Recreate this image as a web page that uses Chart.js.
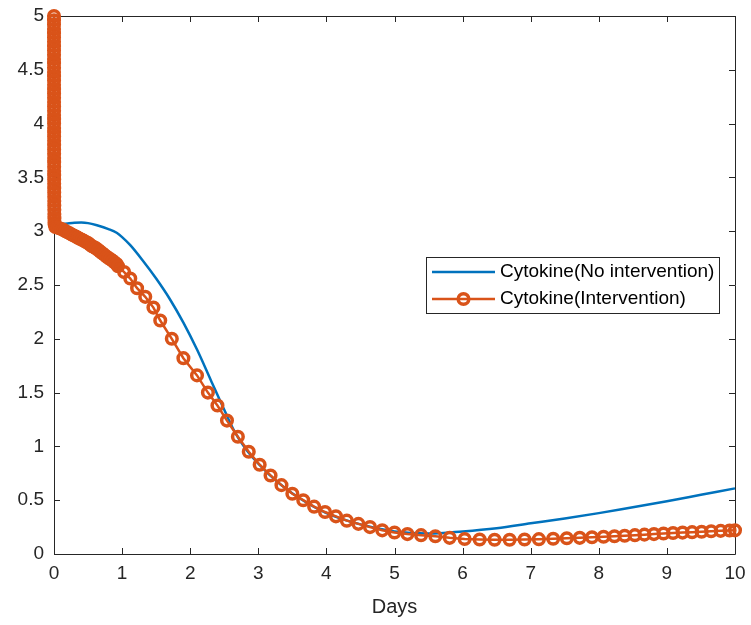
<!DOCTYPE html>
<html>
<head>
<meta charset="utf-8">
<title>Cytokine</title>
<script src="https://cdn.jsdelivr.net/npm/chart.js@4.4.1/dist/chart.umd.min.js"></script>
<style>
  html, body { margin: 0; padding: 0; background: #fff; }
  #wrap { width: 751px; height: 625px; }
</style>
</head>
<body>
<div id="wrap"><canvas id="cytokine-chart" width="751" height="625"></canvas></div>
<script>
// Cytokine level without intervention (solver output, sparse)
const noInterventionDays = [0, 0.01, 0.03, 0.1, 0.2, 0.3, 0.4, 0.5, 0.63, 0.8, 0.92, 1.0, 1.12, 1.3, 1.5, 1.7, 1.9, 2.1, 2.3, 2.5, 2.65, 2.8, 3.0, 3.3, 3.6, 4.0, 4.5, 5.0, 5.5, 6.0, 6.5, 7.0, 7.5, 8.0, 8.5, 9.0, 9.5, 10];
const noInterventionLevel = [5.0, 3.5, 3.06, 3.065, 3.072, 3.078, 3.08, 3.075, 3.055, 3.02, 2.985, 2.945, 2.87, 2.73, 2.56, 2.37, 2.15, 1.9, 1.62, 1.34, 1.14, 0.99, 0.84, 0.66, 0.52, 0.38, 0.275, 0.21, 0.19, 0.21, 0.24, 0.285, 0.33, 0.38, 0.435, 0.49, 0.55, 0.61];

// Cytokine level with intervention (every solver step is marked)
const interventionDays = [
  0, 0.00005, 0.0001, 0.00015, 0.0002, 0.00025, 0.0003, 0.00035, 0.0004, 0.00045,
  0.0005, 0.00055, 0.0006, 0.00065, 0.0007, 0.00075, 0.0008, 0.00085, 0.0009, 0.00095,
  0.001, 0.00106, 0.00112, 0.00118, 0.00124, 0.0013, 0.00137, 0.00144, 0.00151, 0.00158,
  0.00165, 0.00173, 0.00181, 0.0019, 0.002, 0.0021, 0.0022, 0.0023, 0.0025, 0.0027,
  0.0029, 0.0031, 0.0034, 0.0037, 0.0041, 0.0046, 0.0052, 0.006, 0.0075, 0.01,
  0.02, 0.05, 0.08, 0.11, 0.14, 0.17, 0.2, 0.23, 0.26, 0.29, 0.32, 0.35, 0.38,
  0.41, 0.44, 0.47, 0.5, 0.53, 0.56, 0.59, 0.62, 0.65, 0.68, 0.71, 0.74, 0.77,
  0.8, 0.83, 0.86, 0.89, 0.92, 0.94, 1.03, 1.12, 1.22, 1.34, 1.46, 1.56, 1.73,
  1.9, 2.1, 2.26, 2.4, 2.54, 2.7, 2.86, 3.02, 3.18, 3.34, 3.5, 3.66, 3.82, 3.98,
  4.14, 4.3, 4.47, 4.64, 4.82, 5.0, 5.19, 5.39, 5.6, 5.81, 6.03, 6.25, 6.47,
  6.69, 6.91, 7.12, 7.33, 7.53, 7.72, 7.9, 8.07, 8.23, 8.38, 8.53, 8.67, 8.81,
  8.95, 9.09, 9.23, 9.37, 9.51, 9.65, 9.79, 9.92, 10
];
const interventionLevel = [
  5.0, 4.96, 4.92, 4.88, 4.84, 4.8, 4.76, 4.72, 4.68, 4.64,
  4.6, 4.56, 4.52, 4.48, 4.44, 4.4, 4.36, 4.32, 4.28, 4.24,
  4.2, 4.16, 4.12, 4.08, 4.04, 4.0, 3.96, 3.92, 3.88, 3.84,
  3.8, 3.76, 3.72, 3.68, 3.64, 3.6, 3.56, 3.52, 3.48, 3.44,
  3.4, 3.36, 3.32, 3.28, 3.24, 3.2, 3.16, 3.12, 3.08, 3.06,
  3.04, 3.035, 3.028, 3.02, 3.012, 3.0, 2.99, 2.98, 2.97, 2.96, 2.95, 2.94, 2.93,
  2.92, 2.91, 2.9, 2.89, 2.875, 2.86, 2.85, 2.84, 2.825, 2.81, 2.795, 2.78, 2.765,
  2.75, 2.74, 2.725, 2.71, 2.695, 2.675, 2.62, 2.56, 2.47, 2.39, 2.29, 2.17, 2.0,
  1.82, 1.66, 1.5, 1.38, 1.24, 1.09, 0.95, 0.83, 0.73, 0.64, 0.56, 0.5, 0.44, 0.39,
  0.35, 0.31, 0.28, 0.25, 0.22, 0.2, 0.185, 0.175, 0.165, 0.15, 0.14, 0.135, 0.133,
  0.133, 0.135, 0.138, 0.142, 0.146, 0.15, 0.155, 0.16, 0.165, 0.17, 0.175, 0.18, 0.185,
  0.19, 0.195, 0.199, 0.203, 0.207, 0.211, 0.215, 0.218, 0.22
];

const xTicks = [0, 1, 2, 3, 4, 5, 6, 7, 8, 9, 10];
const yTicks = [0, 0.5, 1, 1.5, 2, 2.5, 3, 3.5, 4, 4.5, 5];
const legendLabels = ['Cytokine(No intervention)', 'Cytokine(Intervention)'];

const BLUE = '#0072BD';
const ORANGE = '#D95319';
const AXIS = '#262626';
const FONT = '"Liberation Sans", Arial, Helvetica, sans-serif';

function toPoints(xs, ys) {
    return xs.map((x, i) => ({ x: x, y: ys[i] }));
}

// White page behind everything
const background = {
    id: 'background',
    beforeDraw(chart) {
        const ctx = chart.ctx;
        ctx.save();
        ctx.fillStyle = '#ffffff';
        ctx.fillRect(0, 0, chart.width, chart.height);
        ctx.restore();
    }
};

// Box around the plot with inward ticks on all four sides
const axesBox = {
    id: 'axesBox',
    beforeDatasetsDraw(chart) {
        const { ctx, chartArea: a, scales } = chart;
        const len = 6;
        ctx.save();
        ctx.strokeStyle = AXIS;
        ctx.lineWidth = 1;
        ctx.beginPath();
        ctx.rect(Math.round(a.left) + 0.5, Math.round(a.top) + 0.5,
                 Math.round(a.right - a.left), Math.round(a.bottom - a.top));
        xTicks.forEach(v => {
            const px = Math.round(scales.x.getPixelForValue(v)) + 0.5;
            ctx.moveTo(px, a.bottom);
            ctx.lineTo(px, a.bottom - len);
            ctx.moveTo(px, a.top);
            ctx.lineTo(px, a.top + len);
        });
        yTicks.forEach(v => {
            const py = Math.round(scales.y.getPixelForValue(v)) + 0.5;
            ctx.moveTo(a.left, py);
            ctx.lineTo(a.left + len, py);
            ctx.moveTo(a.right, py);
            ctx.lineTo(a.right - len, py);
        });
        ctx.stroke();
        ctx.restore();
    }
};

// Boxed legend sitting inside the plot, right of centre
const boxedLegend = {
    id: 'boxedLegend',
    afterDatasetsDraw(chart) {
        const ctx = chart.ctx;
        const box = { x: 426, y: 257, w: 293, h: 56 };
        const rows = [box.y + 15, box.y + 42];
        ctx.save();
        ctx.fillStyle = '#ffffff';
        ctx.fillRect(box.x, box.y, box.w, box.h);
        ctx.strokeStyle = AXIS;
        ctx.lineWidth = 1;
        ctx.strokeRect(box.x + 0.5, box.y + 0.5, box.w, box.h);

        ctx.lineWidth = 2.5;
        ctx.strokeStyle = BLUE;
        ctx.beginPath();
        ctx.moveTo(432, rows[0]);
        ctx.lineTo(495, rows[0]);
        ctx.stroke();

        ctx.strokeStyle = ORANGE;
        ctx.beginPath();
        ctx.moveTo(432, rows[1]);
        ctx.lineTo(495, rows[1]);
        ctx.stroke();
        ctx.lineWidth = 3.5;
        ctx.beginPath();
        ctx.arc(463.5, rows[1], 5.3, 0, Math.PI * 2);
        ctx.stroke();

        ctx.fillStyle = '#000000';
        ctx.font = '19px ' + FONT;
        ctx.textBaseline = 'middle';
        ctx.textAlign = 'left';
        ctx.fillText(legendLabels[0], 500, rows[0]);
        ctx.fillText(legendLabels[1], 500, rows[1]);
        ctx.restore();
    }
};

const ctx = document.getElementById('cytokine-chart');

new Chart(ctx, {
    type: 'scatter',
    data: {
        datasets: [
            {
                label: legendLabels[0],
                data: toPoints(noInterventionDays, noInterventionLevel),
                showLine: true,
                borderColor: BLUE,
                borderWidth: 2.5,
                pointRadius: 0,
                cubicInterpolationMode: 'monotone',
                order: 2
            },
            {
                label: legendLabels[1],
                data: toPoints(interventionDays, interventionLevel),
                showLine: true,
                borderColor: ORANGE,
                borderWidth: 2.5,
                pointRadius: 5.3,
                pointBorderWidth: 3.5,
                pointBorderColor: ORANGE,
                pointBackgroundColor: 'rgba(0,0,0,0)',
                pointStyle: 'circle',
                order: 1
            }
        ]
    },
    options: {
        responsive: false,
        animation: false,
        devicePixelRatio: 1,
        clip: false,
        layout: { padding: { top: 16, right: 16, left: 0, bottom: 0 } },
        plugins: {
            legend: { display: false },
            tooltip: { enabled: false }
        },
        scales: {
            x: {
                type: 'linear',
                min: 0,
                max: 10,
                afterBuildTicks: scale => { scale.ticks = xTicks.map(v => ({ value: v })); },
                afterFit: scale => {
                    scale.height = 71;
                    scale.paddingLeft = 0;
                    scale.paddingRight = 0;
                },
                grid: { display: false, drawTicks: false },
                border: { display: false },
                ticks: {
                    color: AXIS,
                    font: { family: FONT, size: 19 },
                    padding: 8,
                    maxRotation: 0,
                    autoSkip: false
                },
                title: {
                    display: true,
                    text: 'Days',
                    color: AXIS,
                    font: { family: FONT, size: 20 },
                    padding: { top: 0, bottom: 6 }
                }
            },
            y: {
                type: 'linear',
                min: 0,
                max: 5,
                afterBuildTicks: scale => { scale.ticks = yTicks.map(v => ({ value: v })); },
                afterFit: scale => {
                    scale.width = 54;
                    scale.paddingTop = 0;
                    scale.paddingBottom = 0;
                },
                grid: { display: false, drawTicks: false },
                border: { display: false },
                ticks: {
                    color: AXIS,
                    font: { family: FONT, size: 19 },
                    padding: 10,
                    autoSkip: false,
                    callback: v => String(v)
                }
            }
        }
    },
    plugins: [background, axesBox, boxedLegend]
});
</script>
</body>
</html>
